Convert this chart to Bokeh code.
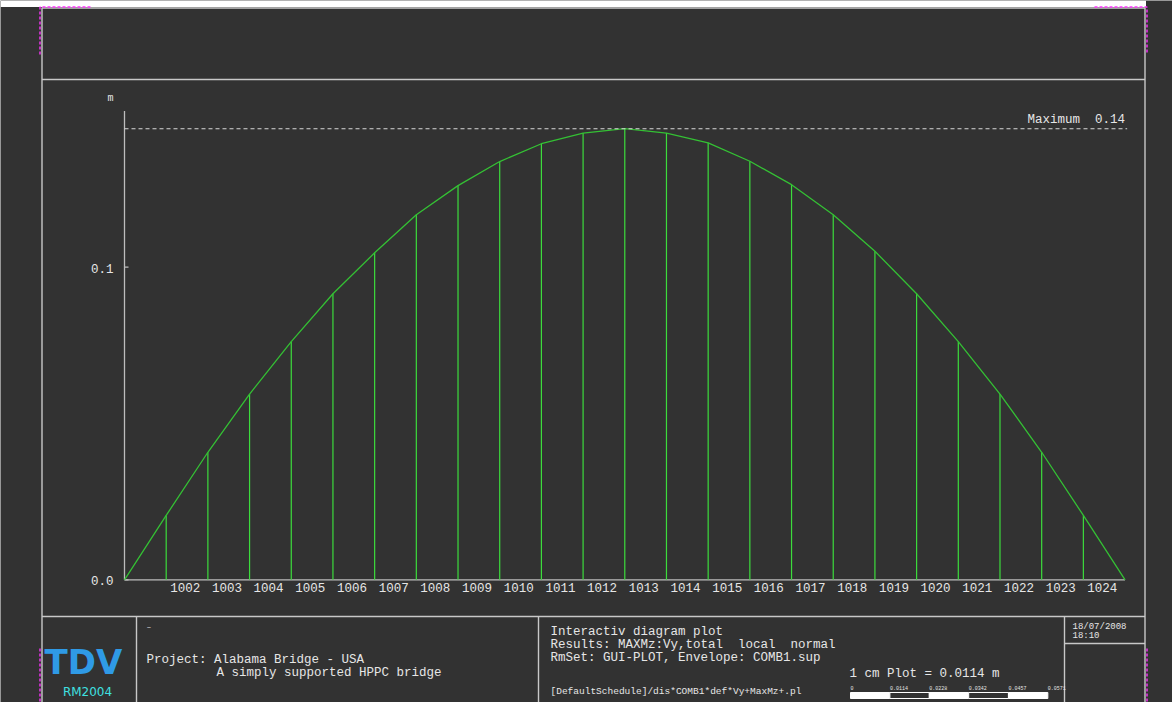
import math
from bokeh.plotting import figure
from bokeh.models import Range1d
from bokeh.embed import file_html
from bokeh.resources import INLINE
from bokeh.core.properties import value

# ---------------- data ----------------
nodes = list(range(1001, 1026))
vy = [0.0, 0.0206, 0.0408, 0.0594, 0.0762, 0.0915, 0.1046, 0.1168, 0.1261,
      0.1338, 0.1395, 0.1429, 0.1443, 0.1429, 0.1398, 0.1339, 0.1264, 0.1168,
      0.1051, 0.0915, 0.0762, 0.0594, 0.0408, 0.0206, 0.0]
x_labels = ["1002", "1003", "1004", "1005", "1006", "1007", "1008", "1009",
            "1010", "1011", "1012", "1013", "1014", "1015", "1016", "1017",
            "1018", "1019", "1020", "1021", "1022", "1023", "1024"]
y_ticks = [0.0, 0.1]
y_tick_labels = ["0.0", "0.1"]
y_unit = "m"
axis_top = 0.150
scale_values = [0.0, 0.0114, 0.0228, 0.0342, 0.0457, 0.0571]
scale_labels = ["0", "0.0114", "0.0228", "0.0342", "0.0457", "0.0571"]

info_lines = ["Interactiv diagram plot",
              "Results: MAXMz:Vy,total  local  normal",
              "RmSet: GUI-PLOT, Envelope: COMB1.sup"]
project_lines = ["Project: Alabama Bridge - USA",
                 "A simply supported HPPC bridge"]
file_line = "[DefaultSchedule]/dis*COMB1*def*Vy+MaxMz+.pl"
scale_text = "1 cm Plot = 0.0114 m"
date_lines = ["18/07/2008", "18:10"]


def keep_spaces(s):
    return s.replace(" ", "\u00a0")


# ---------------- layout ----------------
W, H = 1172, 702
OFF = 0
BG = "#323232"
FRAME = "#c8c8c8"
TXT = "#e6e6e6"
GREEN_CURVE = "#34c034"
GREEN_BAR = "#3cdc3c"
MONO = value("Liberation Mono")

node_px0 = 124.0      # page x of first node
px_per_node = 41.69
zero_py = 579.3       # page y of value 0
px_per_unit = 3126.0

x_start = nodes[0] - (node_px0 - OFF) / px_per_node
x_end = x_start + W / px_per_node
y_end = (zero_py - OFF) / px_per_unit
y_start = y_end - H / px_per_unit

p = figure(width=W, height=H, output_backend="svg", toolbar_location=None,
           x_range=Range1d(x_start, x_end), y_range=Range1d(y_start, y_end),
           min_border=0, background_fill_color=BG, border_fill_color=BG,
           outline_line_color=None)
p.xaxis.visible = False
p.yaxis.visible = False
p.grid.visible = False
p.extra_x_ranges = {"px": Range1d(OFF, OFF + W)}
p.extra_y_ranges = {"px": Range1d(OFF + H, OFF)}
PX = dict(x_range_name="px", y_range_name="px")

# white strip on top
p.quad(left=[0], right=[1145.5], top=[0], bottom=[6.5], fill_color="#ffffff",
       line_color=None, **PX)

# ---------------- frame / title block ----------------
fx0, fx1 = 41.5, 1144.5
p.segment(x0=[fx0, fx0, fx1, fx0, fx0, 136, 538, 1064, 1064],
          y0=[7.5, 7, 7, 79, 616, 616, 616, 616, 643],
          x1=[fx1, fx0, fx1, fx1, fx1, 136, 538, 1064, fx1],
          y1=[7.5, 702, 702, 79, 616, 702, 702, 702, 643],
          line_color=FRAME, line_width=1.4, **PX)

# magenta print marks
p.multi_line(xs=[[39.5, 39.5, 92], [1094, 1146.5, 1146.5], [39.5, 39.5],
                 [1146.5, 1146.5]],
             ys=[[54, 6.5, 6.5], [6.5, 6.5, 54], [648, 702], [648, 702]],
             line_color="#ff33ff", line_width=1.4, line_dash="3 2", **PX)

# ---------------- chart ----------------
p.segment(x0=[nodes[0], nodes[0]], y0=[0, 0], x1=[nodes[-1], nodes[0]],
          y1=[0, axis_top], line_color="#bdbdbd", line_width=1.3)
p.ray(x=[nodes[0]] * len(y_ticks), y=y_ticks, length=4, length_units="screen",
      angle=0, line_color="#bdbdbd", line_width=1.2)
p.text(x=[nodes[0]] * len(y_ticks), y=y_ticks, text=y_tick_labels,
       x_offset=-11, y_offset=1, text_align="right", text_baseline="middle",
       text_font=MONO, text_font_size="12.5px", text_color=TXT)
p.text(x=[nodes[0]], y=[axis_top], text=[y_unit], x_offset=-14, y_offset=-12,
       text_align="center", text_baseline="middle", text_font=MONO,
       text_font_size="10px", text_color=TXT)

# vertical bars at interior nodes
p.segment(x0=nodes[1:-1], y0=[0] * (len(nodes) - 2), x1=nodes[1:-1],
          y1=vy[1:-1], line_color=GREEN_BAR, line_width=1.2)
# curve
p.line(x=nodes, y=vy, line_color=GREEN_CURVE, line_width=1.3)

# maximum line
vmax = max(vy)
p.segment(x0=[nodes[0]], y0=[vmax], x1=[nodes[-1] + 0.05], y1=[vmax],
          line_color="#d8d8d8", line_width=1.1, line_dash="4 3")
p.text(x=[nodes[-1]], y=[vmax], text=[keep_spaces("Maximum  %.2f" % vmax)],
       y_offset=-2, text_align="right", text_baseline="bottom",
       text_font=MONO, text_font_size="12.5px", text_color=TXT)

# x labels
p.text(x=nodes[1:-1], y=[0] * len(x_labels), text=x_labels, x_offset=4,
       y_offset=3, text_align="left", text_baseline="top", text_font=MONO,
       text_font_size="12.5px", text_color=TXT)

# ---------------- title block texts ----------------
p.text(x=[44], y=[661], text=["TDV"], text_font=value("DejaVu Sans"),
       text_font_style="bold", text_font_size="34px", text_color="#2f9ae6",
       text_baseline="middle", text_align="left", **PX)
p.text(x=[87], y=[691], text=["RM2004"], text_font=value("DejaVu Sans"),
       text_font_size="12px", text_color="#3fe0e0", text_baseline="middle",
       text_align="center", **PX)
p.text(x=[146], y=[626], text=["\u2012"], text_font=MONO,
       text_font_size="8px", text_color=TXT, text_baseline="middle", **PX)
p.text(x=[146, 216], y=[659, 672], text=project_lines,
       text_font=MONO, text_font_size="12.5px", text_color=TXT,
       text_baseline="middle", text_align="left", **PX)
p.text(x=[550] * len(info_lines), y=[631, 644, 657],
       text=[keep_spaces(s) for s in info_lines],
       text_font=MONO, text_font_size="12.5px", text_color=TXT,
       text_baseline="middle", text_align="left", **PX)
p.text(x=[849], y=[673], text=[keep_spaces(scale_text)], text_font=MONO,
       text_font_size="12.5px", text_color=TXT, text_baseline="middle",
       text_align="left", **PX)
p.text(x=[550], y=[691], text=[file_line], text_font=MONO,
       text_font_size="9.5px", text_color=TXT, text_baseline="middle",
       text_align="left", **PX)
p.text(x=[1072] * len(date_lines), y=[626.5, 635.5], text=date_lines,
       text_font=MONO, text_font_size="9px", text_color=TXT,
       text_baseline="middle", text_align="left", **PX)

# scale bar
bar_x0 = 850.0
bar_px_per_unit = 39.4 / scale_values[1]
edges = [bar_x0 + v * bar_px_per_unit for v in scale_values]
fills = ["#ffffff" if i % 2 == 0 else BG for i in range(len(edges) - 1)]
p.quad(left=edges[:-1], right=edges[1:], top=[692] * (len(edges) - 1),
       bottom=[698] * (len(edges) - 1), fill_color=fills, line_color="#ffffff",
       line_width=1, **PX)
p.text(x=edges, y=[687] * len(edges), text=scale_labels, text_font=MONO,
       text_font_size="5px", text_color=TXT, text_baseline="middle",
       text_align="left", **PX)

open("out.html", "w").write(file_html(p, INLINE))
